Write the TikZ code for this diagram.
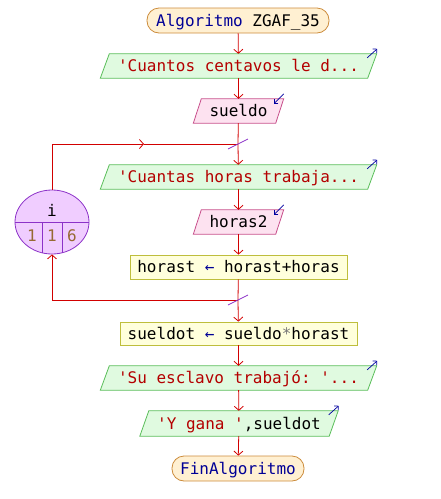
\documentclass[tikz,border=0pt]{standalone}
\usepackage{fontspec}
\setmonofont{DejaVu Sans Mono}
\usetikzlibrary{arrows.meta,shapes.geometric,backgrounds,calc}
\definecolor{flowred}{RGB}{210,0,0}
\definecolor{termfill}{RGB}{255,240,210}
\definecolor{termdraw}{RGB}{204,140,60}
\definecolor{kw}{RGB}{0,0,150}
\definecolor{outfill}{RGB}{224,250,224}
\definecolor{outdraw}{RGB}{90,190,90}
\definecolor{strc}{RGB}{180,0,0}
\definecolor{infill}{RGB}{253,226,240}
\definecolor{indraw}{RGB}{200,80,140}
\definecolor{procfill}{RGB}{255,255,220}
\definecolor{procdraw}{RGB}{190,190,60}
\definecolor{loopfill}{RGB}{240,205,255}
\definecolor{loopdraw}{RGB}{140,50,200}
\definecolor{numc}{RGB}{150,105,50}
\definecolor{cornerc}{RGB}{0,0,160}
\definecolor{opgray}{RGB}{120,120,120}
\newcommand\paral[4]{%
  \begin{scope}[on background layer]
    \filldraw[fill=#3,draw=#4,line width=0.8pt]
      ([xshift=#2]#1.north west) -- ([xshift=#2]#1.north east) --
      ([xshift=-#2]#1.south east) -- ([xshift=-#2]#1.south west) -- cycle;
  \end{scope}}
\newcommand\outarrow[1]{%
  \draw[cornerarrow] ([xshift=-5pt,yshift=-4pt]#1.north east) -- ([xshift=5pt,yshift=5pt]#1.north east);}
\newcommand\inarrow[1]{%
  \draw[cornerarrow] ([xshift=4pt,yshift=5pt]#1.north east) -- ([xshift=-6pt,yshift=-5pt]#1.north east);}
\begin{document}
\begin{tikzpicture}[x=1pt,y=-1pt,
  font=\ttfamily\fontsize{16}{18}\selectfont,
  box/.style={inner sep=0pt, text height=11.5pt, text depth=0pt, align=center},
  term/.style={box, rounded corners=12pt, draw=termdraw, fill=termfill, line width=0.8pt, minimum height=25pt},
  proc/.style={box, draw=procdraw, fill=procfill, line width=0.8pt, minimum height=24pt},
  io/.style={box, minimum height=24pt},
  flow/.style={draw=flowred, line width=0.8pt, -{Straight Barb[length=4pt,width=9pt]}},
  link/.style={draw=flowred, line width=0.8pt},
  cornerarrow/.style={draw=cornerc, line width=0.7pt, -{Straight Barb[length=3pt,width=6pt]}},
  slash/.style={draw=loopdraw, line width=0.8pt},
  loopline/.style={draw=loopdraw, line width=0.8pt}]
\useasboundingbox (0,0) rectangle (441,499);

% nodes
\node[term, minimum width=182pt] (start) at (238,20.5) {\textcolor{kw}{Algoritmo} ZGAF\_35};
\node[io, minimum width=267pt] (o1) at (238.5,66) {\textcolor{strc}{\textquotesingle Cuantos centavos le d...}};
\node[io, minimum width=82pt] (i1) at (238.5,111) {sueldo};
\coordinate (jtop) at (238,144);
\node[io, minimum width=267pt] (o2) at (238.5,177) {\textcolor{strc}{\textquotesingle Cuantas horas trabaja...}};
\node[io, minimum width=82pt] (i2) at (238.5,222) {horas2};
\node[proc, minimum width=217pt] (p1) at (238.5,267) {horast \textcolor{kw}{←} horast+horas};
\coordinate (jbot) at (238,300);
\node[proc, minimum width=237pt, minimum height=23pt] (p2) at (238.5,333.5) {sueldot \textcolor{kw}{←} sueldo\textcolor{opgray}{*}horast};
\node[io, minimum width=267pt] (o3) at (238.5,378) {\textcolor{strc}{\textquotesingle Su esclavo trabajó: \textquotesingle...}};
\node[io, minimum width=189pt, minimum height=25pt] (o4) at (239,423.5) {\textcolor{strc}{\textquotesingle Y gana \textquotesingle},sueldot};
\node[term, minimum width=132pt] (end) at (238,468.5) {\textcolor{kw}{FinAlgoritmo}};

% parallelogram outlines
\paral{o1}{4.5pt}{outfill}{outdraw}
\paral{o2}{4.5pt}{outfill}{outdraw}
\paral{o3}{4.5pt}{outfill}{outdraw}
\paral{o4}{4.5pt}{outfill}{outdraw}
\paral{i1}{4pt}{infill}{indraw}
\paral{i2}{4pt}{infill}{indraw}

% corner arrows
\outarrow{o1}
\outarrow{o2}
\outarrow{o3}
\outarrow{o4}
\inarrow{i1}
\inarrow{i2}

% loop counter
\node[ellipse, minimum width=74pt, minimum height=64pt, inner sep=0pt, fill=loopfill, draw=loopdraw, line width=0.8pt] (ell) at (52,222) {};
\draw[loopline] (ell.west) -- (ell.east);
\draw[loopline] (42,222) -- (42,252.8);
\draw[loopline] (62,222) -- (62,252.8);
\node[box] (lvar) at (52,211) {i};
\node[box, text=numc] (lstart) at (32,236) {1};
\node[box, text=numc] (lend) at (52,236) {1};
\node[box, text=numc] (lstep) at (72,236) {6};

% flow
\draw[flow] (start) -- (o1);
\draw[flow] (o1) -- (i1);
\draw[link] (i1) -- (jtop);
\draw[flow] (jtop) -- (o2);
\draw[flow] (o2) -- (i2);
\draw[flow] (i2) -- (p1);
\draw[link] (p1) -- (jbot);
\draw[flow] (jbot) -- (p2);
\draw[flow] (p2) -- (o3);
\draw[flow] (o3) -- (o4);
\draw[flow] (o4) -- (end);

% loop connectors
\coordinate (ltop) at (52,144);
\coordinate (lmid) at (144,144);
\coordinate (lbot) at (52,300);
\draw[flow] (ell.north) -- (ltop) -- (lmid);
\draw[link] (lmid) -- (jtop);
\draw[link] (jbot) -- (lbot);
\draw[flow] (lbot) -- (ell.south);

% junction marks
\draw[slash] ([xshift=-10pt,yshift=-5pt]jtop) -- ([xshift=10pt,yshift=5pt]jtop);
\draw[slash] ([xshift=-10pt,yshift=-5pt]jbot) -- ([xshift=10pt,yshift=5pt]jbot);
\end{tikzpicture}
\end{document}
